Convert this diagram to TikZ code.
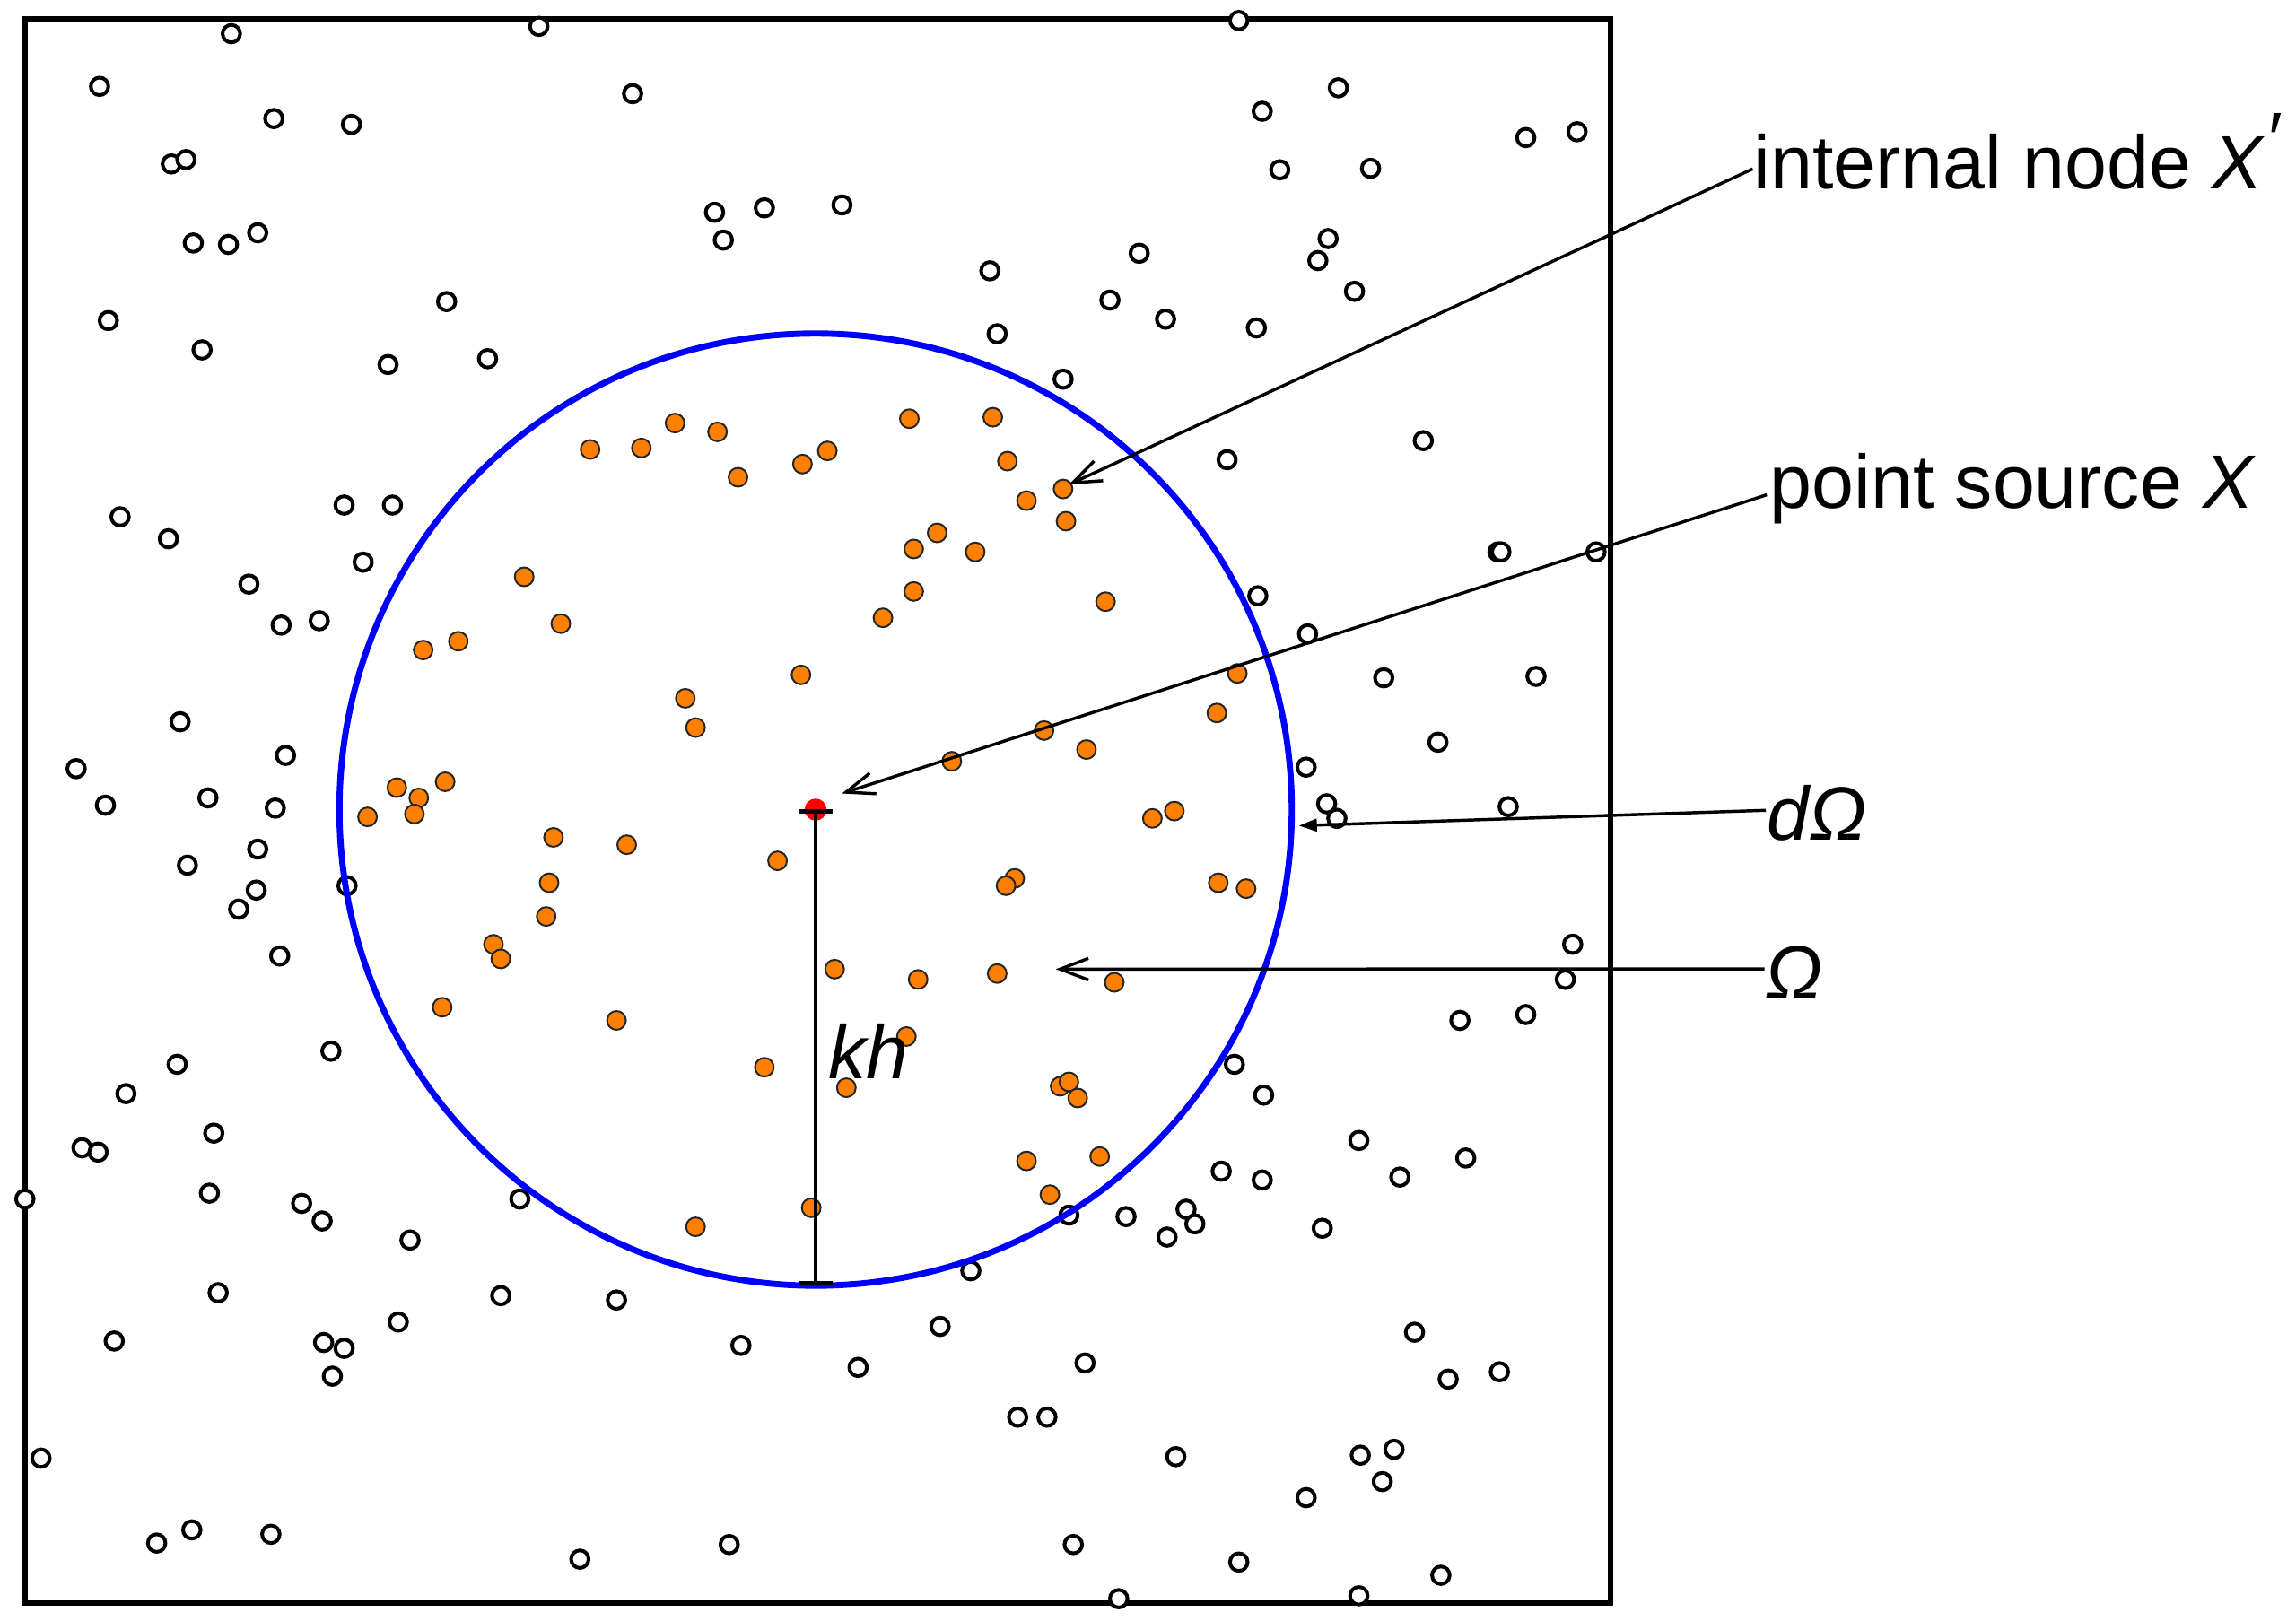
\documentclass[tikz,border=0pt]{standalone}
\usepackage{fontspec}
\setmainfont{Liberation Sans}
\usetikzlibrary{arrows.meta}

\definecolor{nodeorange}{RGB}{255,128,0}

\begin{document}
\begin{tikzpicture}[x=0.01cm, y=-0.01cm,
  >={Straight Barb[length=5.5pt,width=4.2pt]},
  font=\fontsize{14.7}{17}\selectfont,
  lbl/.style={anchor=base west, inner sep=0pt},
  freept/.style={draw=black, fill=white, line width=0.7pt},
  supppt/.style={draw=black!85, fill=nodeorange, line width=0.35pt},
  ptr/.style={->, line width=0.6pt}]

  \useasboundingbox (0,0) rectangle (1568,1107);

  % domain
  \draw[line width=1pt] (17,13) rectangle (1100,1095);

  % nodes outside the support
  \foreach \x/\y in {158/23, 368/18, 846/14, 68/59, 432/64, 914/60, 187/81, 240/85,
    862/76, 1042/94, 1077/90, 117/112, 127/109, 874/116, 936/115, 488/145, 522/142,
    575/140, 494/164, 132/166, 156/167, 176/159, 907/163, 900/178, 778/173, 676/185,
    925/199, 758/205, 796/218, 305/206, 74/219, 681/228, 858/224, 138/239, 265/249,
    333/245, 726/259, 972/301, 838/314, 235/345, 268/345, 82/353, 115/368, 248/384,
    1023/377, 1025/377, 1090/377, 170/399, 192/427, 218/424, 859/407, 893/433,
    945/463, 1049/462, 123/493, 982/507, 195/516, 52/525, 892/524, 72/550, 142/545,
    188/552, 906/549, 913/559, 1030/551, 176/580, 128/591, 237/605, 175/608, 163/621,
    191/653, 1074/645, 1069/669, 997/697, 1042/693, 226/718, 121/727, 843/727,
    863/748, 86/747, 146/774, 56/784, 67/787, 928/779, 1001/791, 956/804, 143/815,
    17/819, 206/822, 220/834, 355/819, 834/800, 862/806, 810/826, 816/836, 769/831,
    730/830, 903/839, 797/845, 280/847, 149/883, 342/885, 421/888, 663/868, 272/903,
    506/919, 642/906, 586/934, 966/910, 741/931, 221/917, 235/921, 227/940, 78/916,
    989/942, 1024/937, 28/996, 695/968, 715/968, 803/995, 929/994, 952/990, 944/1012,
    892/1023, 107/1054, 131/1045, 185/1048, 498/1055, 396/1065, 733/1055, 846/1067,
    984/1076, 928/1090, 764/1092}
    \draw[freept] (\x,\y) circle[radius=0.06cm];

  % nodes inside the support
  \foreach \x/\y in {403/307, 438/306, 461/289, 490/295, 504/326, 548/317, 565/308,
    621/286, 678/285, 688/315, 701/342, 726/334, 728/356, 624/375, 640/364, 666/377,
    624/404, 603/422, 755/411, 358/394, 383/426, 289/444, 313/438, 468/477, 475/497,
    547/461, 845/460, 831/487, 713/499, 742/512, 650/520, 271/538, 286/545, 304/534,
    251/558, 283/556, 378/572, 428/577, 375/603, 531/588, 787/559, 802/554, 693/600,
    687/605, 832/603, 851/607, 337/645, 342/655, 373/626, 570/662, 627/669, 681/665,
    761/671, 302/688, 421/697, 619/708, 522/729, 578/743, 724/742, 730/739, 736/750,
    701/793, 751/790, 717/816, 554/825, 475/838}
    \draw[supppt] (\x,\y) circle[radius=0.064cm];

  % support boundary
  \draw[blue, line width=1.2pt] (557,553) circle[radius=3.25cm];

  % point source and radius
  \node[circle, fill=red, inner sep=0pt, minimum size=0.15cm] (src) at (557,553) {};
  \coordinate (rim) at (557,878);
  \draw[{Bar[width=6.5pt]}-{Bar[width=6.5pt]}, line width=0.8pt] (src.center) -- (rim);
  \node[lbl] (kh) at (565,737) {\textit{kh}};

  % labels
  \node[lbl] (intl) at (1197,128.7) {internal node \textit{X}\raisebox{.3em}{\textit{′}}};
  \node[lbl] (pts) at (1208,347) {point source \textit{X}};
  \node[lbl] (bnd) at (1206,574) {\textit{dΩ}};
  \node[lbl] (dom) at (1205,682) {\textit{Ω}};

  % pointers
  \coordinate (tint) at (730,331);
  \coordinate (tsrc) at (575,542);
  \coordinate (tbnd) at (887,564);
  \coordinate (tdom) at (721,662);
  \draw[ptr] ([yshift=0.133cm]intl.base west) -- (tint);
  \draw[ptr] ([xshift=-0.014cm,yshift=0.09cm]pts.base west) -- (tsrc);
  \draw[line width=0.6pt, -{Triangle[length=3.5pt,width=2.4pt]}]
    ([yshift=0.205cm]bnd.base west) -- (tbnd);
  \draw[ptr] ([yshift=0.202cm]dom.base west) -- (tdom);
\end{tikzpicture}
\end{document}
